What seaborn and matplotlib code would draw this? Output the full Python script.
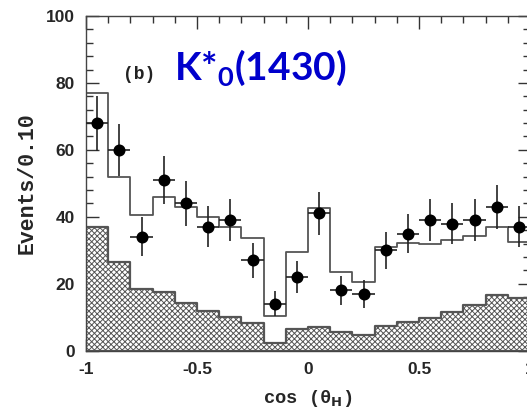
import numpy as np
import pandas as pd
import matplotlib
matplotlib.use("Agg")
import matplotlib.pyplot as plt
from matplotlib.ticker import MultipleLocator
import seaborn as sns

# ---- data ----
bin_edges = [-1.0, -0.9, -0.8, -0.7, -0.6, -0.5, -0.4, -0.3, -0.2, -0.1, 0.0,
             0.1, 0.2, 0.3, 0.4, 0.5, 0.6, 0.7, 0.8, 0.9, 1.0]
bin_centers = [-0.95, -0.85, -0.75, -0.65, -0.55, -0.45, -0.35, -0.25, -0.15, -0.05,
               0.05, 0.15, 0.25, 0.35, 0.45, 0.55, 0.65, 0.75, 0.85, 0.95]
data_counts = [68, 60, 34, 51, 44, 37, 39, 27, 14, 22, 41, 18, 17, 30, 35, 39, 38, 39, 43, 37]
data_errors = [8.2, 7.7, 5.8, 7.1, 6.6, 6.1, 6.2, 5.2, 3.7, 4.7, 6.4, 4.2, 4.1, 5.5, 5.9,
               6.2, 6.2, 6.2, 6.6, 6.1]
total_fit = [77, 52, 40.5, 45.8, 43, 40, 37, 33.6, 10.4, 29.6, 42.7, 23.6, 20.6, 31.1,
             32.1, 31.8, 33.1, 34.4, 37.0, 32.6]
background = [37, 26.6, 18.3, 17.6, 14.3, 12.0, 10.0, 8.2, 2.4, 6.4, 7.0, 5.5, 4.6, 7.4,
              8.7, 9.7, 11.7, 13.7, 16.6, 15.7]
x_ticks = [-1, -0.5, 0, 0.5, 1]
x_tick_labels = ["-1", "-0.5", "0", "0.5", "1"]
y_ticks = [0, 20, 40, 60, 80, 100]

df = pd.DataFrame({"x": bin_centers, "data": data_counts, "err": data_errors,
                   "total": total_fit, "bkg": background})

sns.set_theme(style="ticks")
plt.rcParams["mathtext.default"] = "regular"
plt.rcParams["hatch.linewidth"] = 0.7

W, H = 527, 408
fig = plt.figure(figsize=(W / 100, H / 100), dpi=100)
left, right, top, bottom = 86, 530, 16, 350.7
ax = fig.add_axes([left / W, (H - bottom) / H, (right - left) / W, (bottom - top) / H])

# hatched background
sns.histplot(data=df, x="x", weights="bkg", bins=bin_edges, element="step", fill=True,
             color="white", edgecolor="black", linewidth=1.6, alpha=1, ax=ax)
for coll in ax.collections:
    coll.set_hatch("xxxxxx")
    coll.set_facecolor("white")
    coll.set_edgecolor("#555555")

# total fit histogram (open)
sns.histplot(data=df, x="x", weights="total", bins=bin_edges, element="step", fill=False,
             color="#555555", linewidth=1.3, ax=ax)

# data points
ax.errorbar(df["x"], df["data"], yerr=df["err"], xerr=0.05, fmt="none",
            ecolor="#222222", elinewidth=1.2, capsize=0, zorder=5)
sns.scatterplot(data=df, x="x", y="data", color="black", s=75, edgecolor="black",
                linewidth=0, ax=ax, zorder=6)

ax.set_xlim(-1, 1)
ax.set_ylim(0, 100)
ax.set_xticks(x_ticks)
ax.set_xticklabels(x_tick_labels)
ax.set_yticks(y_ticks)
ax.xaxis.set_minor_locator(MultipleLocator(0.1))
ax.yaxis.set_minor_locator(MultipleLocator(4))
ax.tick_params(which="both", direction="in", top=True, right=True, color="#333333", width=1.0)
ax.tick_params(which="major", length=9, labelsize=12.5, pad=8)
ax.tick_params(which="minor", length=5)
for lbl in ax.get_xticklabels() + ax.get_yticklabels():
    lbl.set_fontweight("bold")
    lbl.set_fontfamily("Liberation Sans")
for sp in ax.spines.values():
    sp.set_color("#444444")
    sp.set_linewidth(1.0)

ax.set_xlabel(r"cos ($\theta_{\mathbf{H}}$)", fontfamily="Liberation Mono", fontweight="bold",
              fontsize=13.5, labelpad=8)
ax.set_ylabel("Events/0.10", fontfamily="Liberation Mono", fontweight="bold",
              fontsize=15.5, labelpad=6)

ax.text(-0.835, 82.4, "(b)", fontfamily="Liberation Mono", fontweight="bold",
        fontsize=13, va="center", ha="left", color="#222222")
ax.text(-0.605, 81, r"K*$_{0}$(1430)", fontfamily="Lato", fontweight="bold",
        fontsize=28, va="baseline", ha="left", color="#0000cc")

fig.savefig("out.png", dpi=100)
